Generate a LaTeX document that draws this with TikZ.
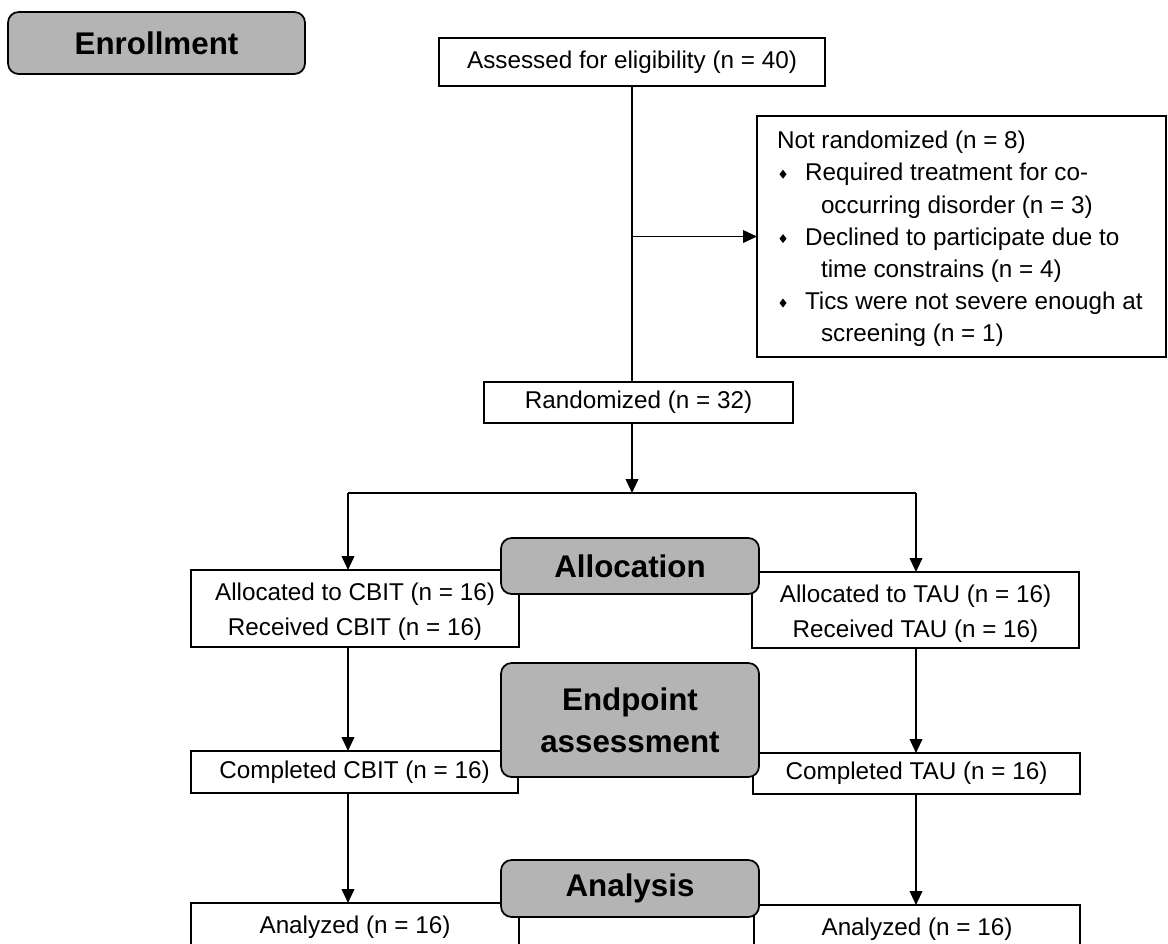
\documentclass[tikz,border=0pt]{standalone}
\usepackage{fontspec}
\setmainfont{Liberation Sans}
\usetikzlibrary{arrows.meta}
\definecolor{boxgray}{RGB}{180,180,180}
\begin{document}
\begin{tikzpicture}[x=0.75pt,y=-0.75pt,
  every node/.style={inner sep=0pt, outer sep=0pt},
  wbox/.style={draw, line width=1.3pt, fill=white, align=center, font=\fontsize{18.2pt}{24pt}\selectfont},
  plain/.style={align=center, font=\fontsize{18.2pt}{26pt}\selectfont},
  gbox/.style={draw, line width=1.3pt, fill=boxgray, rounded corners=8pt, align=center, font=\fontsize{23.5pt}{31.5pt}\selectfont\bfseries},
  conn/.style={line width=1.3pt},
  arr/.style={line width=1.3pt, -{Triangle[length=10.5pt,width=9.5pt]}},
  txt/.style={anchor=base west, font=\fontsize{18.2pt}{24pt}\selectfont},
  bul/.style={fill=black}
]
\clip (0,0) rectangle (1168,943);
\fill[white] (0,0) rectangle (1168,943);

\node[gbox, minimum width=222.75pt, minimum height=46.5pt] (enroll) at (156.5,43) {Enrollment};
\node[wbox, minimum width=289.5pt, minimum height=36pt] (assess) at (632,62) {Assessed for eligibility (n = 40)};
\node[draw, line width=1.3pt, minimum width=306.75pt, minimum height=180.75pt] (excl) at (961.5,236.5) {};

\node[txt] (e1) at (777,148.7) {Not randomized (n = 8)};
\node[txt] (e2) at (805,180.9) {Required treatment for co-};
\node[txt] (e3) at (821,213.1) {occurring disorder (n = 3)};
\node[txt] (e4) at (805,245.3) {Declined to participate due to};
\node[txt] (e5) at (821,277.5) {time constrains (n = 4)};
\node[txt] (e6) at (805,309.7) {Tics were not severe enough at};
\node[txt] (e7) at (821,341.9) {screening (n = 1)};
\foreach \yy in {174.2,238.6,303} {
  \fill[bul] (783,\yy-4.5) -- (786.5,\yy) -- (783,\yy+4.5) -- (779.5,\yy) -- cycle;
}

\node[wbox, minimum width=231.75pt, minimum height=30.75pt] (rand) at (638.5,402.5) {Randomized (n = 32)};
\node[draw, line width=1.3pt, fill=white, minimum width=246pt, minimum height=57.75pt] (allocL) at (355,608.5) {};
\node[plain] (allocLt) at (355,612) {Allocated to CBIT (n = 16)\\Received CBIT (n = 16)};
\node[draw, line width=1.3pt, fill=white, minimum width=245.25pt, minimum height=57pt] (allocR) at (915.5,610) {};
\node[plain] (allocRt) at (915.5,613.5) {Allocated to TAU (n = 16)\\Received TAU (n = 16)};
\node[wbox, minimum width=245.25pt, minimum height=31.5pt] (complL) at (354.5,772) {Completed CBIT (n = 16)};
\node[wbox, minimum width=245.25pt, minimum height=30.75pt] (complR) at (916.5,773.5) {Completed TAU (n = 16)};
\node[wbox, minimum width=246pt, minimum height=36pt] (anL) at (355,927) {Analyzed (n = 16)};
\node[wbox, minimum width=244.5pt, minimum height=36pt] (anR) at (917,929) {Analyzed (n = 16)};

\draw[conn] (assess.south) -- (assess.south |- rand.north);
\draw[arr] (assess.south |- excl.west) -- (excl.west);
\coordinate (split) at (632,493);
\coordinate (colL) at (348,493);
\coordinate (colR) at (916,493);
\draw[arr] (rand.south -| split) -- (split);
\draw[conn] (colL) -- (colR);
\draw[arr] (colL) -- (colL |- allocL.north);
\draw[arr] (colR) -- (colR |- allocR.north);
\draw[arr] (colL |- allocL.south) -- (colL |- complL.north);
\draw[arr] (colR |- allocR.south) -- (colR |- complR.north);
\draw[arr] (colL |- complL.south) -- (colL |- anL.north);
\draw[arr] (colR |- complR.south) -- (colR |- anR.north);

\node[gbox, minimum width=193.5pt, minimum height=42pt] (alloc) at (630,566) {Allocation};
\node[gbox, minimum width=193.5pt, minimum height=85.5pt] (endp) at (630,720) {Endpoint\\assessment};
\node[gbox, minimum width=193.5pt, minimum height=42.75pt] (anal) at (630,888.5) {Analysis};
\end{tikzpicture}
\end{document}
